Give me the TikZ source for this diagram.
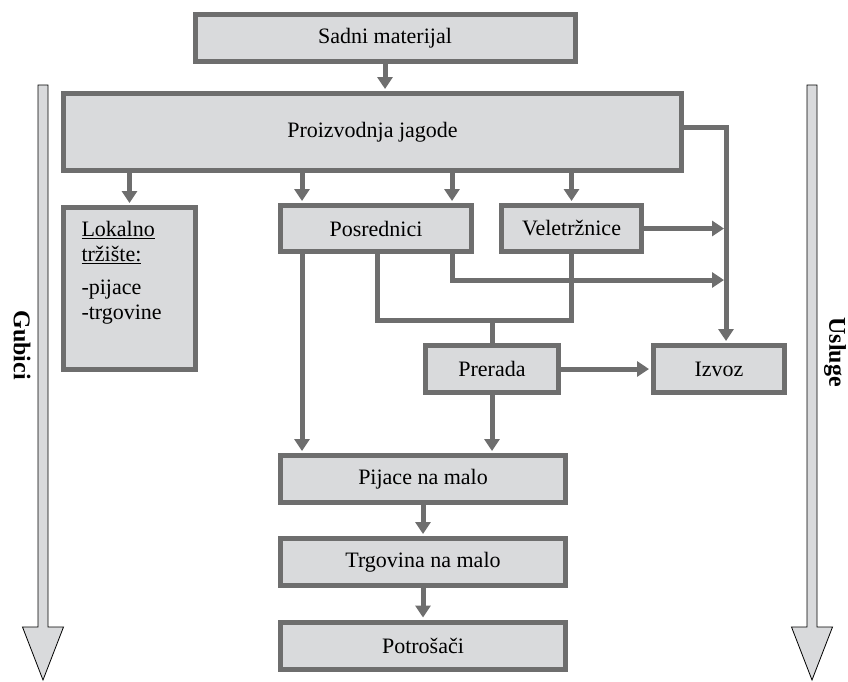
\documentclass[tikz,border=0pt]{standalone}
\usepackage{fontspec}
\setmainfont{Liberation Serif}
\usepackage{xcolor}
\usetikzlibrary{arrows.meta,positioning}
\definecolor{boxfill}{HTML}{D9DADC}
\definecolor{boxline}{HTML}{6E6E6E}

\begin{document}
\begin{tikzpicture}[x=1pt,y=-1pt,
    box/.style={draw=boxline, fill=boxfill, line width=5pt, inner sep=0pt,
      font=\fontsize{22}{25}\selectfont},
    conn/.style={draw=boxline, line width=5pt},
    arr/.style={conn, -{Triangle[width=15pt,length=12pt]}, shorten >=2pt},
    big/.style={draw=black, line width=0.8pt, fill=boxfill},
    side/.style={rotate=-90, font=\bfseries\fontsize{24}{24}\selectfont}]
    \useasboundingbox (0,0) rectangle (848,681);

    % side arrows
    \foreach \c in {43,812}
      \draw[big] (\c-5,85) -- (\c+5,85) -- (\c+5,627) -- (\c+20.5,627) -- (\c,680)
        -- (\c-20.5,627) -- (\c-5,627) -- cycle;
    \node[side] (gubici) at (22,345) {Gubici};
    \node[side] (usluge) at (835,352) {Usluge};

    \node[box, minimum width=380, minimum height=47] (sadni) at (385,38) {Sadni materijal};
    \node[box, minimum width=618, minimum height=77] (proiz) at (372.5,132) {Proizvodnja jagode};
    \node[box] (lokal) at (129.5,288.5) {\parbox[c][162pt][t]{132pt}{\leftskip=18pt
        \vspace*{14pt}\underline{Lokalno}\\\underline{tržište:}\\[8pt]-pijace\\-trgovine}};
    \node[box, minimum width=191, minimum height=46] (posred) at (376,228.5) {Posrednici};
    \node[box, minimum width=140, minimum height=46] (veletr) at (571.5,228.5) {Veletržnice};
    \node[box, minimum width=133, minimum height=47] (prerada) at (492,369) {Prerada};
    \node[box, minimum width=131, minimum height=47] (izvoz) at (719,369) {Izvoz};
    \node[box, minimum width=285, minimum height=47] (pijace) at (423,479) {Pijace na malo};
    \node[box, minimum width=285, minimum height=47] (trgov) at (423,562) {Trgovina na malo};
    \node[box, minimum width=285, minimum height=47] (potros) at (423,645.5) {Potrošači};

    \coordinate (trunk) at (726,127);
    \coordinate (colA) at (302,0);
    \coordinate (colB) at (452,280);
    \coordinate (colC) at (377,320);

    \draw[arr] (sadni.south) -- (sadni.south |- proiz.north);
    \draw[arr] (proiz.south -| lokal.north) -- (lokal.north);
    \draw[arr] (proiz.south -| colA) -- (posred.north -| colA);
    \draw[arr] (proiz.south -| colB) -- (posred.north -| colB);
    \draw[arr] (proiz.south -| veletr.north) -- (veletr.north);
    \draw[arr] (proiz.east |- trunk) -- (trunk) -- (izvoz.north -| trunk);
    \draw[arr] (veletr.east) -- (veletr.east -| trunk);
    \draw[arr] (posred.south -| colB) -- (colB) -- (colB -| trunk);
    \draw[conn] (posred.south -| colC) -- (colC) -- (colC -| veletr.south) -- (veletr.south);
    \draw[conn] (colC -| prerada.north) -- (prerada.north);
    \draw[arr] (posred.south -| colA) -- (pijace.north -| colA);
    \draw[arr] (prerada.south) -- (pijace.north -| prerada.south);
    \draw[arr] (prerada.east) -- (izvoz.west |- prerada.east);
    \draw[arr] (pijace.south) -- (trgov.north);
    \draw[arr] (trgov.south) -- (potros.north);
\end{tikzpicture}
\end{document}
